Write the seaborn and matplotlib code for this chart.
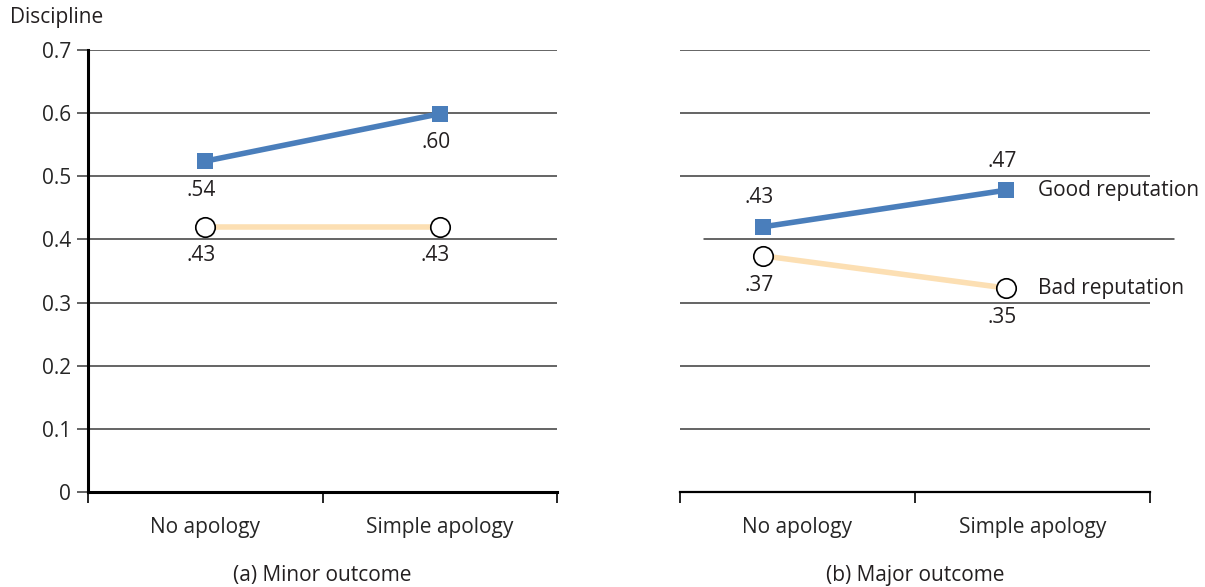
import numpy as np
import pandas as pd
import matplotlib
matplotlib.use("Agg")
import matplotlib.pyplot as plt
import seaborn as sns

# ==========================================
# DATA
# ==========================================
conditions = ["No apology", "Simple apology"]
series_names = ["Good reputation", "Bad reputation"]
panel_titles = ["(a) Minor outcome", "(b) Major outcome"]

# plotted heights
minor_good = [0.524, 0.599]
minor_bad = [0.420, 0.420]
major_good = [0.420, 0.478]
major_bad = [0.374, 0.323]

# printed value labels
minor_good_lbl = [".54", ".60"]
minor_bad_lbl = [".43", ".43"]
major_good_lbl = [".43", ".47"]
major_bad_lbl = [".37", ".35"]

y_ticks = [0, 0.1, 0.2, 0.3, 0.4, 0.5, 0.6, 0.7]
y_tick_labels = ["0", "0.1", "0.2", "0.3", "0.4", "0.5", "0.6", "0.7"]

BLUE = "#4a7ebb"
PEACH = "#fcdfb3"
GRID = "#3a3a3a"
TXT = "#231f20"

sns.set_theme(style="white")
plt.rcParams['font.family'] = ['Open Sans', 'DejaVu Sans']
plt.rcParams['text.color'] = TXT
FS = 15

fig = plt.figure(figsize=(12.05, 5.87), dpi=100)
ax_l = fig.add_axes([88 / 1205, 95 / 587, 469 / 1205, 442 / 587])
ax_r = fig.add_axes([680 / 1205, 95 / 587, 470 / 1205, 442 / 587])

# (axes, good, bad, labels, label direction, x limits)
panels = [
    (ax_l, minor_good, minor_bad, minor_good_lbl, minor_bad_lbl, [-1, -1], [-1, -1], (-0.5, 1.5)),
    (ax_r, major_good, major_bad, major_good_lbl, major_bad_lbl, [1, 1], [-1, -1], (-0.342, 1.592)),
]

xpos = np.arange(len(conditions))

for i, (ax, good, bad, good_lbl, bad_lbl, good_dir, bad_dir, xl) in enumerate(panels):
    df = pd.DataFrame({
        "x": np.concatenate([xpos, xpos]),
        "y": good + bad,
        "series": [series_names[0]] * 2 + [series_names[1]] * 2,
    })
    # bad line under the good one
    sns.lineplot(data=df[df.series == series_names[1]], x="x", y="y", ax=ax,
                 color=PEACH, lw=4, marker="o", markersize=14,
                 markerfacecolor="white", markeredgecolor="black",
                 markeredgewidth=1.2, zorder=3, legend=False)
    sns.lineplot(data=df[df.series == series_names[0]], x="x", y="y", ax=ax,
                 color=BLUE, lw=4, marker="s", markersize=12,
                 markeredgewidth=0, zorder=4, legend=False)

    for xv, yv, s, d in zip(xpos, good, good_lbl, good_dir):
        ax.annotate(s, (xv, yv), xytext=(-3, 21 * d), textcoords="offset points",
                    ha="center", va="center", fontsize=FS)
    for xv, yv, s, d in zip(xpos, bad, bad_lbl, bad_dir):
        ax.annotate(s, (xv, yv), xytext=(-3, 21 * d), textcoords="offset points",
                    ha="center", va="center", fontsize=FS)

    lo, hi = xl
    ax.set_xlim(lo, hi)
    ax.set_ylim(0, 0.7)
    ax.set_xlabel("")
    ax.set_ylabel("")

    # tick marks at the panel edges and middle, category names at quarters
    ax.set_xticks([lo + f * (hi - lo) for f in (0, 0.5, 1)])
    ax.set_xticklabels([])
    ax.set_xticks([lo + f * (hi - lo) for f in (0.25, 0.75)], minor=True)
    ax.set_xticklabels(conditions, minor=True, fontsize=FS)
    ax.tick_params(axis="x", which="major", direction="out", length=8,
                   width=1.2, color="black", bottom=True)
    ax.tick_params(axis="x", which="minor", length=0, pad=18)

    for sp in ["top", "right"]:
        ax.spines[sp].set_visible(False)
    ax.spines["bottom"].set_color("black")

    ax.text(0.5, -0.19, panel_titles[i], transform=ax.transAxes,
            ha="center", va="center", fontsize=FS)

    # horizontal gridlines
    for yt in y_ticks[1:]:
        if i == 1 and abs(yt - 0.4) < 1e-9:
            # this one sits a little to the right in the original
            ax.plot([0.05, 1.05], [yt, yt], color=GRID, lw=1.1,
                    transform=ax.get_yaxis_transform(), clip_on=False, zorder=1)
        else:
            ax.axhline(yt, color=GRID, lw=1.1, zorder=1)

# left panel: y axis
ax_l.set_yticks(y_ticks)
ax_l.set_yticklabels(y_tick_labels, fontsize=FS)
ax_l.tick_params(axis="y", direction="out", length=8, width=1.1, color=GRID, left=True, pad=4)
ax_l.spines["left"].set_color("black")
ax_l.spines["left"].set_linewidth(2.2)
ax_l.spines["bottom"].set_linewidth(2.2)
fig.text(10 / 1205, 1 - 18 / 587, "Discipline", ha="left", va="center", fontsize=FS)

# right panel: no y axis, series names beside the last points
ax_r.spines["left"].set_visible(False)
ax_r.spines["bottom"].set_linewidth(1.6)
ax_r.set_yticks([])
for yv, name in [(major_good[-1], series_names[0]), (major_bad[-1], series_names[1])]:
    ax_r.annotate(name, (xpos[-1], yv), xytext=(23, 0), textcoords="offset points",
                  ha="left", va="center", fontsize=FS)

fig.savefig("out.png", dpi=100)
